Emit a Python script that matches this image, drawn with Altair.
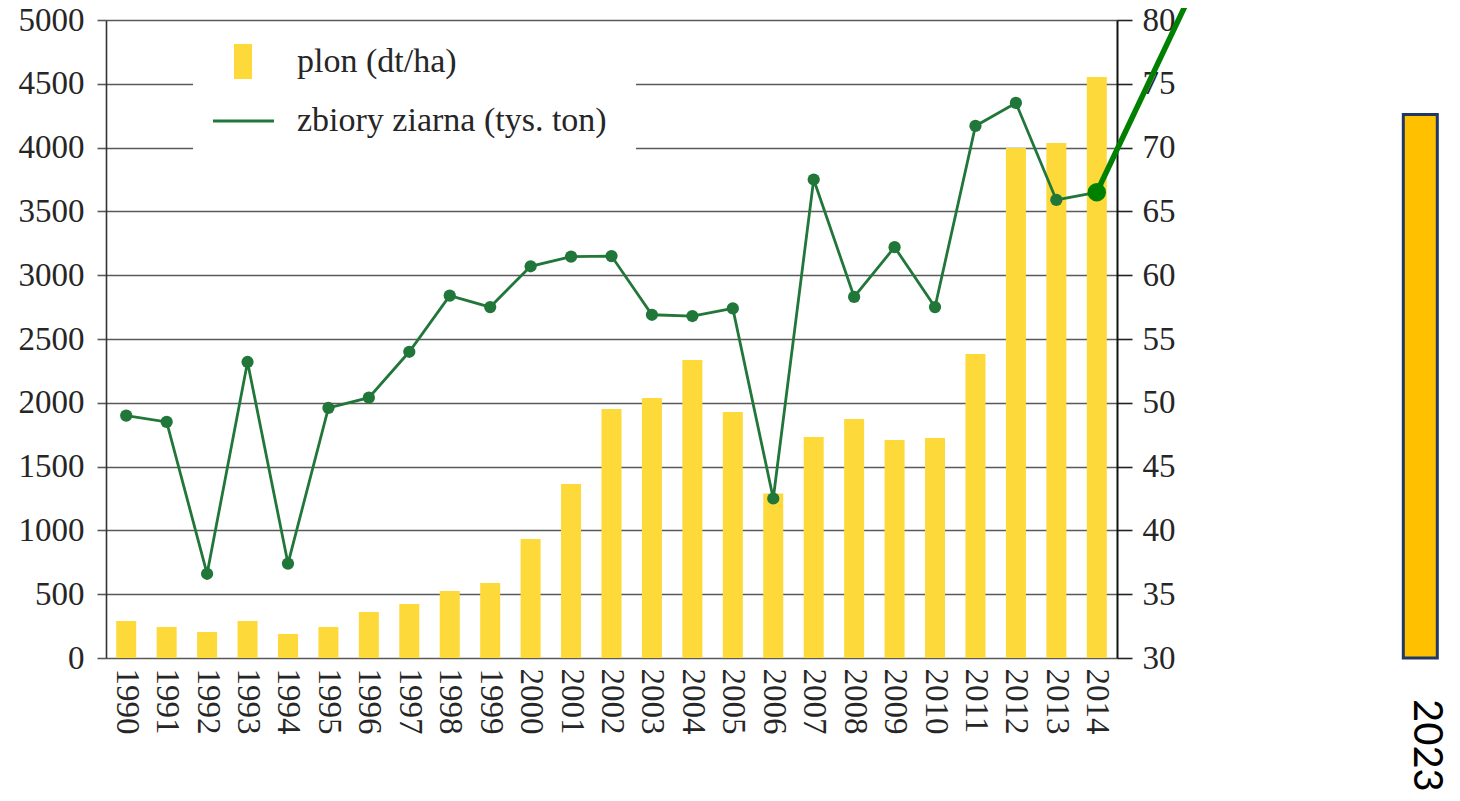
import altair as alt
import pandas as pd

# ---- data ----
years = list(range(1990, 2015))
plon = [290, 243, 204, 290, 188, 243, 360, 423, 525, 588, 933, 1364, 1951,
        2038, 2335, 1928, 1290, 1732, 1873, 1708, 1724, 2382, 3997, 4036, 4553]
zbiory = [49.0, 48.5, 36.6, 53.2, 37.4, 49.6, 50.4, 54.0, 58.4, 57.5, 60.7,
          61.45, 61.5, 56.9, 56.8, 57.4, 42.5, 67.5, 58.3, 62.2, 57.5, 71.7,
          73.5, 65.9, 66.5]
series_bar = "plon (dt/ha)"
series_line = "zbiory ziarna (tys. ton)"

extra_label = ["2023"]
extra_slot = [2022]          # slot after the axis break where 2023 is drawn
extra_plon = [4260]
ext_slots = [2014, 2022]
ext_zbiory = [66.5, 120]

left_ticks = list(range(0, 5001, 500))
right_ticks = list(range(30, 81, 5))

# ---- styles ----
SERIF = "Liberation Serif"
TXT = "#262626"
YEL = "#FDD93A"
GREEN = "#21773A"
BRIGHT = "#008000"

df = pd.DataFrame({"rok": years, "plon": plon, "zbiory": zbiory,
                   "s1": series_bar, "s2": series_line})
df_extra = pd.DataFrame({"pos": extra_slot, "plon": extra_plon, "label": extra_label})
df_ext = pd.DataFrame({"pos": ext_slots, "zbiory": ext_zbiory})
df_dot = df_ext.iloc[:1]

XS = alt.Scale(domain=[1989.5, 2014.5], nice=False, zero=False, padding=0)
YL = alt.Scale(domain=[0, 5000], nice=False, zero=False)
YR = alt.Scale(domain=[30, 80], nice=False, zero=False)

nb = "\u00a0"
zw = "\u200b"   # keeps the trailing no-break spaces from being trimmed

bars = alt.Chart(df).mark_bar(size=20).encode(
    x=alt.X("rok:Q", scale=XS, title=None,
            axis=alt.Axis(values=years, format="d", labelAngle=90, ticks=False,
                          domain=False, grid=False, labelPadding=10,
                          labelFont=SERIF, labelFontSize=33, labelColor=TXT,
                          labelFlush=False, labelOverlap=False)),
    y=alt.Y("plon:Q", scale=YL, title=None,
            axis=alt.Axis(values=left_ticks, format="d", grid=True,
                          gridColor="#5a5a5a", gridWidth=1.6, tickColor="#5a5a5a",
                          tickWidth=1.6, tickSize=9, domainColor="#333333",
                          domainWidth=1.6, labelPadding=13, labelFont=SERIF,
                          labelFontSize=33, labelColor=TXT, labelFlush=False)),
    color=alt.Color("s1:N", scale=alt.Scale(domain=[series_bar], range=[YEL]),
                    legend=alt.Legend(title=None, orient="none", legendX=87, legendY=16,
                                      fillColor="white", padding=8,
                                      symbolType="M-0.514,-1H0.514V1H-0.514Z",
                                      symbolSize=1225, symbolStrokeWidth=0,
                                      symbolOffset=24.5, labelOffset=36.5,
                                      labelFont=SERIF, labelFontSize=34,
                                      labelColor=TXT, labelLimit=0,
                                      labelExpr="datum.label + '" + nb * 19 + zw + "'")),
)

bar2023 = alt.Chart(df_extra).mark_bar(size=34, color="#FFC000", stroke="#1F3864",
                                       strokeWidth=3, clip=False).encode(
    x=alt.X("pos:Q", scale=XS, title=None),
    y=alt.Y("plon:Q", scale=YL, title=None),
)

text2023 = alt.Chart(df_extra).mark_text(angle=90, align="left", baseline="middle",
                                          dx=41, dy=-6, font="Lato", fontSize=40,
                                          color="black", clip=False).encode(
    x=alt.X("pos:Q", scale=XS, title=None),
    y=alt.YDatum(0, scale=YL, title=None),
    text="label:N",
)

line = alt.Chart(df).mark_line(strokeWidth=2.8).encode(
    x=alt.X("rok:Q", scale=XS, title=None),
    y=alt.Y("zbiory:Q", scale=YR, title=None,
            axis=alt.Axis(orient="right", values=right_ticks, format="d", grid=False,
                          tickColor="#222222", tickWidth=1.6, tickSize=15,
                          domainColor="#111111", domainWidth=2, labelPadding=10,
                          labelFont=SERIF, labelFontSize=33, labelColor=TXT,
                          labelFlush=False, zindex=0)),
    stroke=alt.Stroke("s2:N", scale=alt.Scale(domain=[series_line], range=[GREEN]),
                      legend=alt.Legend(title=None, orient="none", legendX=87, legendY=57,
                                        fillColor="white", padding=12,
                                        symbolType="stroke", symbolSize=3721,
                                        symbolStrokeWidth=3, symbolOffset=6.5,
                                        labelOffset=21.5, labelFont=SERIF,
                                        labelFontSize=34, labelColor=TXT,
                                        labelLimit=0,
                                        labelExpr="datum.label + '" + nb * 2 + zw + "'")),
)

points = alt.Chart(df).mark_circle(size=150, color=GREEN, opacity=1).encode(
    x=alt.X("rok:Q", scale=XS, title=None),
    y=alt.Y("zbiory:Q", scale=YR, title=None),
)

ext = alt.Chart(df_ext).mark_line(color=BRIGHT, strokeWidth=5.5, clip=False).encode(
    x=alt.X("pos:Q", scale=XS, title=None),
    y=alt.Y("zbiory:Q", scale=YR, title=None),
)

dot = alt.Chart(df_dot).mark_circle(size=340, color=BRIGHT, opacity=1).encode(
    x=alt.X("pos:Q", scale=XS, title=None),
    y=alt.Y("zbiory:Q", scale=YR, title=None),
)

left_group = alt.layer(bars, bar2023, text2023)
right_group = alt.layer(line, points, ext, dot)

chart = alt.layer(left_group, right_group).resolve_scale(
    y="independent", color="independent"
).properties(
    width=1011, height=638,
    autosize=alt.AutoSizeParams(type="none"),
    padding={"left": 98, "top": 12, "right": 335, "bottom": 135},
    background="white",
).configure_view(strokeWidth=0)

chart.save("out.html", embed_options={"renderer": "svg", "actions": False})
